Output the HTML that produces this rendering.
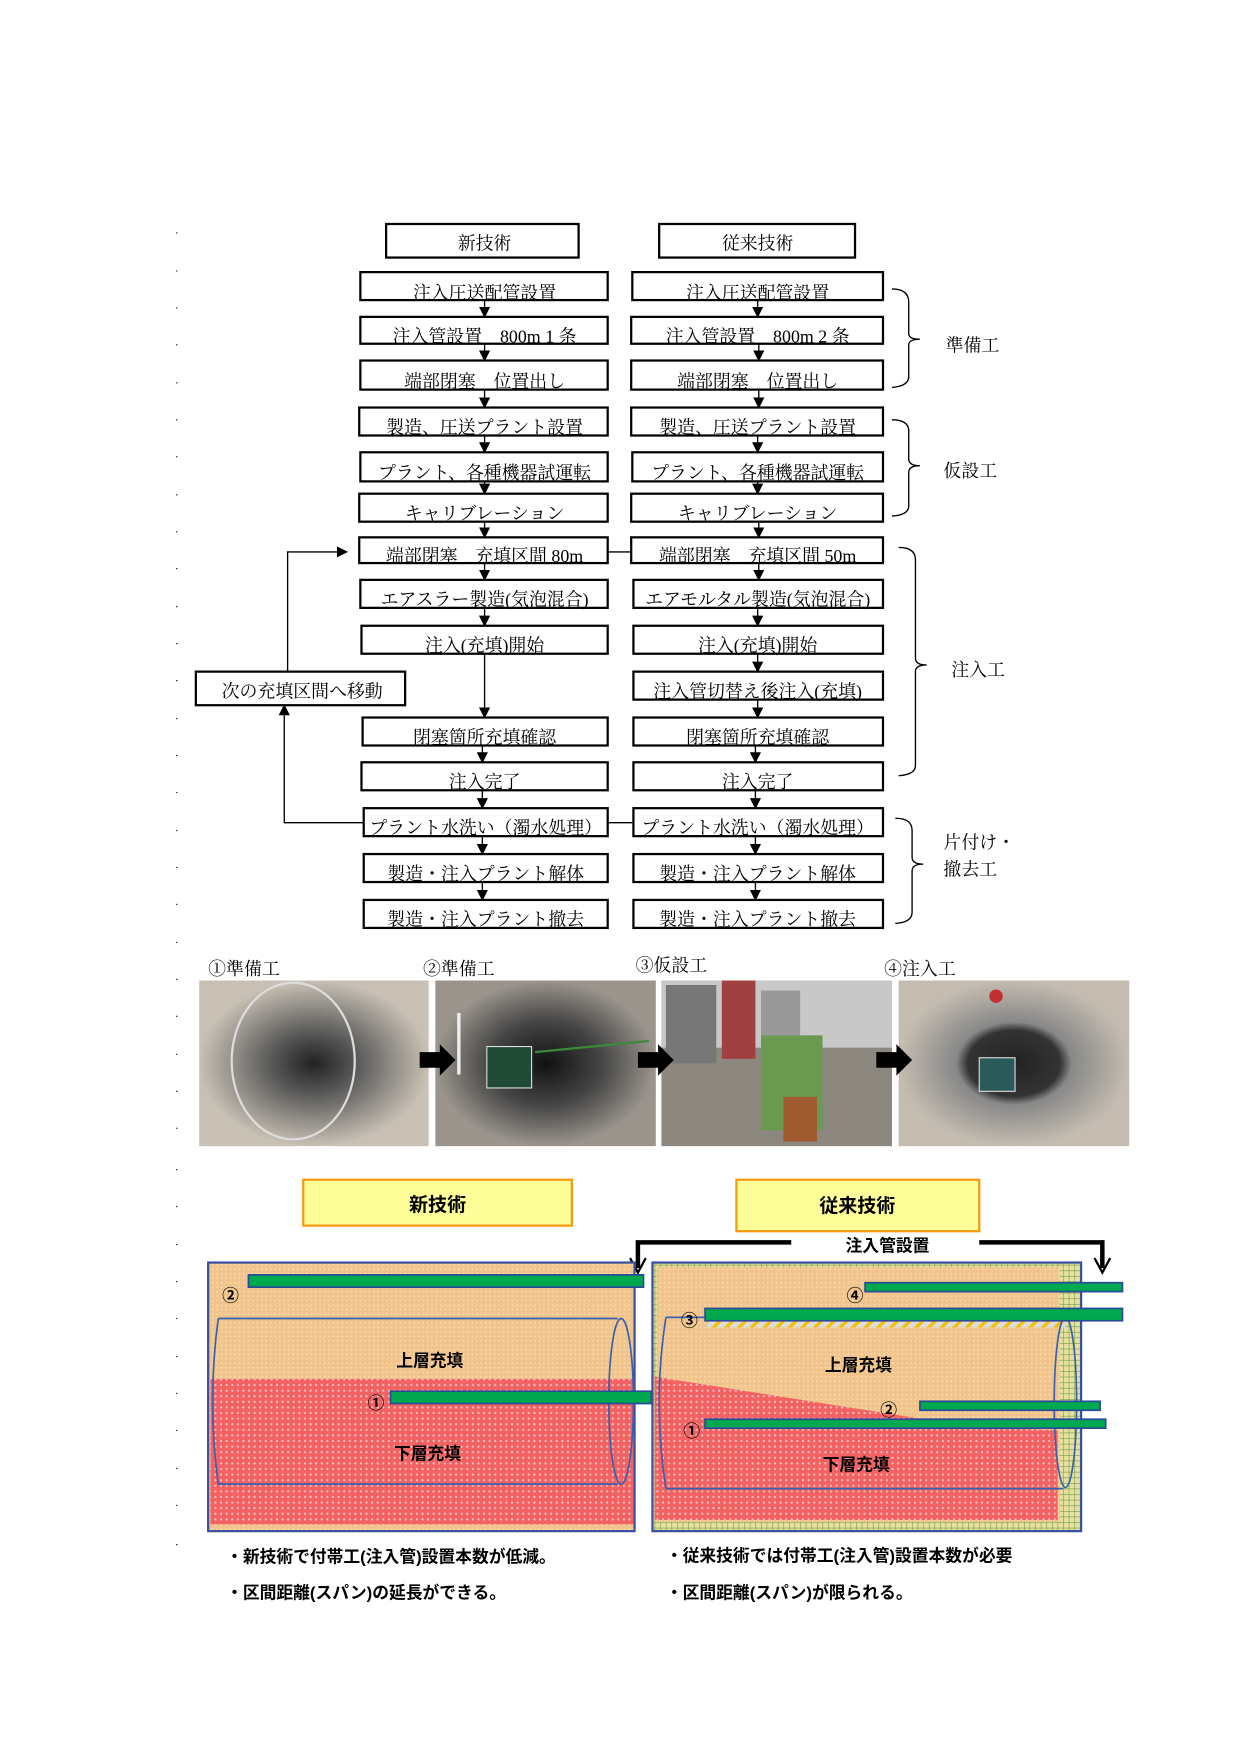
<!DOCTYPE html>
<html><head><meta charset="utf-8"><style>
html,body{margin:0;padding:0;background:#fff}
svg{display:block}
.m{font-family:"Liberation Serif","Noto Serif CJK SC",serif;font-size:16px;fill:#000}
.g{font-family:"Liberation Sans","Noto Sans CJK JP",sans-serif;font-weight:bold;fill:#000}
.b{fill:#fff;stroke:#000;stroke-width:2}
.l{stroke:#000;stroke-width:1.2;fill:none}
</style></head><body>
<svg width="1240" height="1754" viewBox="0 0 1108 1567" xmlns="http://www.w3.org/2000/svg">
<defs>
<marker id="a" markerWidth="10" markerHeight="10" refX="9" refY="5" orient="auto" markerUnits="userSpaceOnUse"><path d="M0,0 L10,5 L0,10z" fill="#000"/></marker>
<pattern id="po" width="4" height="4" patternUnits="userSpaceOnUse"><rect width="4" height="4" fill="#f0c48c"/><circle cx="2" cy="2" r="0.8" fill="#f8e0b0"/></pattern>
<pattern id="pr" width="5" height="5" patternUnits="userSpaceOnUse"><rect width="5" height="5" fill="#f26262"/><circle cx="2.5" cy="2.5" r="1" fill="#f8c0c0"/></pattern>
<pattern id="pg" width="5" height="5" patternUnits="userSpaceOnUse"><rect width="5" height="5" fill="#e8e0a0"/><path d="M0,0H5M0,0V5" stroke="#6a9a40" stroke-width="1"/></pattern>
<pattern id="ph" width="8" height="8" patternUnits="userSpaceOnUse" patternTransform="rotate(45)"><rect width="8" height="8" fill="#ddd"/><rect width="3" height="8" fill="#f5c000"/></pattern>
<radialGradient id="t1"><stop offset="0" stop-color="#222"/><stop offset="0.35" stop-color="#555"/><stop offset="1" stop-color="#c8c0b4"/></radialGradient>
<radialGradient id="t2"><stop offset="0" stop-color="#111"/><stop offset="0.5" stop-color="#444"/><stop offset="1" stop-color="#9a948c"/></radialGradient>
<radialGradient id="t4"><stop offset="0" stop-color="#222"/><stop offset="0.4" stop-color="#333"/><stop offset="0.5" stop-color="#888"/><stop offset="1" stop-color="#c4bcb0"/></radialGradient>
</defs>

<g fill="#000">
<circle cx="158" cy="208" r="0.6"/><circle cx="158" cy="242" r="0.6"/><circle cx="158" cy="275" r="0.6"/><circle cx="158" cy="308" r="0.6"/><circle cx="158" cy="342" r="0.6"/><circle cx="158" cy="375" r="0.6"/><circle cx="158" cy="408" r="0.6"/><circle cx="158" cy="442" r="0.6"/><circle cx="158" cy="475" r="0.6"/><circle cx="158" cy="508" r="0.6"/><circle cx="158" cy="542" r="0.6"/><circle cx="158" cy="575" r="0.6"/><circle cx="158" cy="608" r="0.6"/><circle cx="158" cy="642" r="0.6"/><circle cx="158" cy="675" r="0.6"/><circle cx="158" cy="708" r="0.6"/><circle cx="158" cy="742" r="0.6"/><circle cx="158" cy="775" r="0.6"/><circle cx="158" cy="808" r="0.6"/><circle cx="158" cy="842" r="0.6"/><circle cx="158" cy="875" r="0.6"/><circle cx="158" cy="908" r="0.6"/><circle cx="158" cy="942" r="0.6"/><circle cx="158" cy="975" r="0.6"/><circle cx="158" cy="1008" r="0.6"/><circle cx="158" cy="1045" r="0.6"/><circle cx="158" cy="1078" r="0.6"/><circle cx="158" cy="1112" r="0.6"/><circle cx="158" cy="1145" r="0.6"/><circle cx="158" cy="1178" r="0.6"/><circle cx="158" cy="1212" r="0.6"/><circle cx="158" cy="1245" r="0.6"/><circle cx="158" cy="1278" r="0.6"/><circle cx="158" cy="1312" r="0.6"/><circle cx="158" cy="1345" r="0.6"/><circle cx="158" cy="1380" r="0.6"/>
</g>

<rect class="b" x="345" y="200" width="172" height="30"/><text class="m" x="433" y="223" text-anchor="middle">新技術</text>
<rect class="b" x="589" y="200" width="175" height="30"/><text class="m" x="677" y="223" text-anchor="middle">従来技術</text>

<g>
<rect class="b" x="322" y="243" width="221" height="25"/><text class="m" x="433" y="267" text-anchor="middle">注入圧送配管設置</text>
<rect class="b" x="322" y="283" width="221" height="24"/><text class="m" x="433" y="306" text-anchor="middle">注入管設置　800m 1 条</text>
<rect class="b" x="322" y="322" width="221" height="26"/><text class="m" x="433" y="346" text-anchor="middle">端部閉塞　位置出し</text>
<rect class="b" x="321" y="364" width="222" height="25"/><text class="m" x="433" y="387" text-anchor="middle">製造、圧送プラント設置</text>
<rect class="b" x="322" y="404" width="221" height="26"/><text class="m" x="433" y="428" text-anchor="middle">プラント、各種機器試運転</text>
<rect class="b" x="321" y="441" width="222" height="25"/><text class="m" x="433" y="464" text-anchor="middle">キャリブレーション</text>
<rect class="b" x="321" y="480" width="222" height="23"/><text class="m" x="433" y="502" text-anchor="middle">端部閉塞　充填区間 80m</text>
<rect class="b" x="322" y="518" width="221" height="25"/><text class="m" x="433" y="541" text-anchor="middle">エアスラー製造(気泡混合)</text>
<rect class="b" x="323" y="559" width="220" height="25"/><text class="m" x="433" y="582" text-anchor="middle">注入(充填)開始</text>
<rect class="b" x="324" y="641" width="219" height="25"/><text class="m" x="433" y="664" text-anchor="middle">閉塞箇所充填確認</text>
<rect class="b" x="323" y="681" width="220" height="25"/><text class="m" x="433" y="704" text-anchor="middle">注入完了</text>
<rect class="b" x="325" y="722" width="218" height="25"/><text class="m" x="434" y="745" text-anchor="middle">プラント水洗い（濁水処理）</text>
<rect class="b" x="325" y="763" width="218" height="25"/><text class="m" x="434" y="786" text-anchor="middle">製造・注入プラント解体</text>
<rect class="b" x="325" y="804" width="218" height="25"/><text class="m" x="434" y="827" text-anchor="middle">製造・注入プラント撤去</text>
</g>
<g class="l" marker-end="url(#a)">
<path d="M433,268V283"/><path d="M433,307V322"/><path d="M433,348V364"/><path d="M433,389V404"/><path d="M433,430V441"/><path d="M433,466V480"/><path d="M433,503V518"/><path d="M433,543V559"/><path d="M433,584V641"/><path d="M431,666V681"/><path d="M431,706V722"/><path d="M431,747V763"/><path d="M431,788V804"/>
<path d="M257,600V493H310"/><path d="M325,735H254V630"/>
</g>
<path class="l" d="M543,493H565M543,735H565"/>

<rect class="b" x="175" y="600" width="187" height="30"/><text class="m" x="270" y="623" text-anchor="middle">次の充填区間へ移動</text>

<g>
<rect class="b" x="565" y="243" width="224" height="25"/><text class="m" x="677" y="267" text-anchor="middle">注入圧送配管設置</text>
<rect class="b" x="564" y="283" width="225" height="24"/><text class="m" x="677" y="306" text-anchor="middle">注入管設置　800m 2 条</text>
<rect class="b" x="564" y="322" width="225" height="26"/><text class="m" x="677" y="346" text-anchor="middle">端部閉塞　位置出し</text>
<rect class="b" x="564" y="364" width="225" height="25"/><text class="m" x="677" y="387" text-anchor="middle">製造、圧送プラント設置</text>
<rect class="b" x="565" y="404" width="224" height="26"/><text class="m" x="677" y="428" text-anchor="middle">プラント、各種機器試運転</text>
<rect class="b" x="564" y="441" width="225" height="25"/><text class="m" x="677" y="464" text-anchor="middle">キャリブレーション</text>
<rect class="b" x="564" y="480" width="225" height="23"/><text class="m" x="677" y="502" text-anchor="middle">端部閉塞　充填区間 50m</text>
<rect class="b" x="566" y="518" width="223" height="25"/><text class="m" x="677" y="541" text-anchor="middle">エアモルタル製造(気泡混合)</text>
<rect class="b" x="566" y="559" width="223" height="25"/><text class="m" x="677" y="582" text-anchor="middle">注入(充填)開始</text>
<rect class="b" x="566" y="600" width="223" height="25"/><text class="m" x="677" y="623" text-anchor="middle">注入管切替え後注入(充填)</text>
<rect class="b" x="566" y="641" width="223" height="25"/><text class="m" x="677" y="664" text-anchor="middle">閉塞箇所充填確認</text>
<rect class="b" x="566" y="681" width="223" height="25"/><text class="m" x="677" y="704" text-anchor="middle">注入完了</text>
<rect class="b" x="566" y="722" width="223" height="25"/><text class="m" x="677" y="745" text-anchor="middle">プラント水洗い（濁水処理）</text>
<rect class="b" x="566" y="763" width="223" height="25"/><text class="m" x="677" y="786" text-anchor="middle">製造・注入プラント解体</text>
<rect class="b" x="566" y="804" width="223" height="25"/><text class="m" x="677" y="827" text-anchor="middle">製造・注入プラント撤去</text>
</g>
<g class="l" marker-end="url(#a)">
<path d="M677,268V283"/><path d="M678,307V322"/><path d="M678,348V364"/><path d="M677,389V404"/><path d="M677,430V441"/><path d="M678,466V480"/><path d="M678,503V518"/><path d="M677,543V559"/><path d="M677,584V600"/><path d="M677,625V641"/><path d="M675,666V681"/><path d="M675,706V722"/><path d="M675,747V763"/><path d="M675,788V804"/>
</g>

<g class="l">
<path d="M797,258Q812,258 812,270V298Q812,303 822,303Q812,303 812,308V336Q812,345 797,346"/>
<path d="M797,375Q812,375 812,385V410Q812,416 822,416Q812,416 812,422V452Q812,460 797,461"/>
<path d="M803,489Q818,489 818,500V588Q818,594 828,594Q818,594 818,600V684Q818,692 803,693"/>
<path d="M800,731Q815,731 815,742V766Q815,772 825,772Q815,772 815,778V815Q815,824 800,825"/>
</g>
<text class="m" x="845" y="314">準備工</text>
<text class="m" x="843" y="426">仮設工</text>
<text class="m" x="850" y="604">注入工</text>
<text class="m" x="843" y="758">片付け・</text>
<text class="m" x="843" y="782">撤去工</text>

<text class="m" x="186" y="871" font-size="17">①準備工</text>
<text class="m" x="378" y="871" font-size="17">②準備工</text>
<text class="m" x="568" y="868" font-size="17">③仮設工</text>
<text class="m" x="790" y="871" font-size="17">④注入工</text>
<rect x="178" y="876" width="205" height="148" fill="url(#t1)"/>
<ellipse cx="262" cy="948" rx="55" ry="70" fill="none" stroke="#ddd" stroke-width="2"/>
<rect x="389" y="876" width="197" height="148" fill="url(#t2)"/>
<rect x="435" y="935" width="40" height="37" fill="#1f4a36" stroke="#ddd"/>
<line x1="410" y1="905" x2="410" y2="960" stroke="#eee" stroke-width="3"/>
<path d="M478,940L580,930" stroke="#3a8a3a" stroke-width="2"/>
<rect x="591" y="876" width="206" height="148" fill="#8c8880"/>
<rect x="591" y="876" width="206" height="60" fill="#c8c8c8"/>
<rect x="595" y="880" width="45" height="70" fill="#777"/>
<rect x="645" y="876" width="30" height="70" fill="#a04040"/>
<rect x="680" y="885" width="35" height="55" fill="#999"/>
<rect x="680" y="925" width="55" height="85" fill="#6a9a50"/>
<rect x="700" y="980" width="30" height="40" fill="#a05a30"/>
<rect x="803" y="876" width="206" height="148" fill="url(#t4)"/>
<rect x="875" y="945" width="32" height="30" fill="#2a5a5a" stroke="#ddd"/>
<circle cx="890" cy="890" r="6" fill="#c03030"/>
<g fill="#000">
<path d="M375,940H393V933L407,947L393,961V954H375z"/>
<path d="M570,940H588V933L602,947L588,961V954H570z"/>
<path d="M783,940H801V933L815,947L801,961V954H783z"/>
</g>

<rect x="271" y="1054" width="240" height="41" fill="#ffff99" stroke="#f59a10" stroke-width="2"/>
<text class="g" x="391" y="1082" text-anchor="middle" font-size="17">新技術</text>
<rect x="658" y="1054" width="217" height="46" fill="#ffff99" stroke="#f59a10" stroke-width="2"/>
<text class="g" x="766" y="1083" text-anchor="middle" font-size="17">従来技術</text>

<path d="M707,1110H570V1133" stroke="#000" stroke-width="4" fill="none"/>
<path d="M563,1124L570,1137L577,1124" stroke="#000" stroke-width="2" fill="none"/>
<path d="M875,1110H985V1133" stroke="#000" stroke-width="4" fill="none"/>
<path d="M978,1124L985,1137L992,1124" stroke="#000" stroke-width="2" fill="none"/>
<text class="g" x="793" y="1118" text-anchor="middle" font-size="15">注入管設置</text>

<rect x="186" y="1128" width="381" height="240" fill="url(#po)"/>
<rect x="188" y="1232" width="378" height="130" fill="url(#pr)"/>
<rect x="186" y="1128" width="381" height="240" fill="none" stroke="#3a50a0" stroke-width="2"/>
<path d="M195,1178H552M195,1326H552" stroke="#3a60b0" stroke-width="1.5"/>
<path d="M195,1178Q185,1252 195,1326" stroke="#3a60b0" stroke-width="1.5" fill="none"/>
<ellipse cx="555" cy="1252" rx="11" ry="74" fill="none" stroke="#3a60b0" stroke-width="1.5"/>
<rect x="222" y="1139" width="353" height="11" fill="#00a84f" stroke="#2a4a9a" stroke-width="1.5"/>
<rect x="349" y="1243" width="233" height="11" fill="#00a84f" stroke="#2a4a9a" stroke-width="1.5"/>
<text class="g" x="206" y="1163" text-anchor="middle" font-size="15">②</text>
<text class="g" x="336" y="1259" text-anchor="middle" font-size="15">①</text>
<text class="g" x="384" y="1221" text-anchor="middle" font-size="15">上層充填</text>
<text class="g" x="382" y="1304" text-anchor="middle" font-size="15">下層充填</text>

<rect x="583" y="1128" width="383" height="240" fill="url(#pg)"/>
<rect x="587" y="1132" width="360" height="228" fill="url(#po)"/>
<path d="M585,1230L870,1275L945,1278V1358H585z" fill="url(#pr)"/>
<rect x="632" y="1180" width="320" height="6" fill="url(#ph)"/>
<rect x="583" y="1128" width="383" height="240" fill="none" stroke="#3a50a0" stroke-width="2"/>
<path d="M595,1177H950M595,1330H950" stroke="#3a60b0" stroke-width="1.5"/>
<path d="M595,1177Q583,1253 595,1330" stroke="#3a60b0" stroke-width="1.5" fill="none"/>
<ellipse cx="952" cy="1253" rx="10" ry="76" fill="none" stroke="#3a60b0" stroke-width="1.5"/>
<rect x="773" y="1146" width="230" height="8" fill="#00a84f" stroke="#2a4a9a" stroke-width="1.5"/>
<rect x="630" y="1169" width="373" height="11" fill="#00a84f" stroke="#2a4a9a" stroke-width="1.5"/>
<rect x="822" y="1252" width="161" height="8" fill="#00a84f" stroke="#2a4a9a" stroke-width="1.5"/>
<rect x="630" y="1268" width="358" height="8" fill="#00a84f" stroke="#2a4a9a" stroke-width="1.5"/>
<text class="g" x="764" y="1163" text-anchor="middle" font-size="15">④</text>
<text class="g" x="616" y="1185" text-anchor="middle" font-size="15">③</text>
<text class="g" x="794" y="1265" text-anchor="middle" font-size="15">②</text>
<text class="g" x="618" y="1284" text-anchor="middle" font-size="15">①</text>
<text class="g" x="767" y="1225" text-anchor="middle" font-size="15">上層充填</text>
<text class="g" x="765" y="1314" text-anchor="middle" font-size="15">下層充填</text>

<text class="g" x="202" y="1396" font-size="15">・新技術で付帯工(注入管)設置本数が低減。</text>
<text class="g" x="202" y="1428" font-size="15">・区間距離(スパン)の延長ができる。</text>
<text class="g" x="595" y="1395" font-size="15">・従来技術では付帯工(注入管)設置本数が必要</text>
<text class="g" x="595" y="1428" font-size="15">・区間距離(スパン)が限られる。</text>
</svg>
</body></html>
